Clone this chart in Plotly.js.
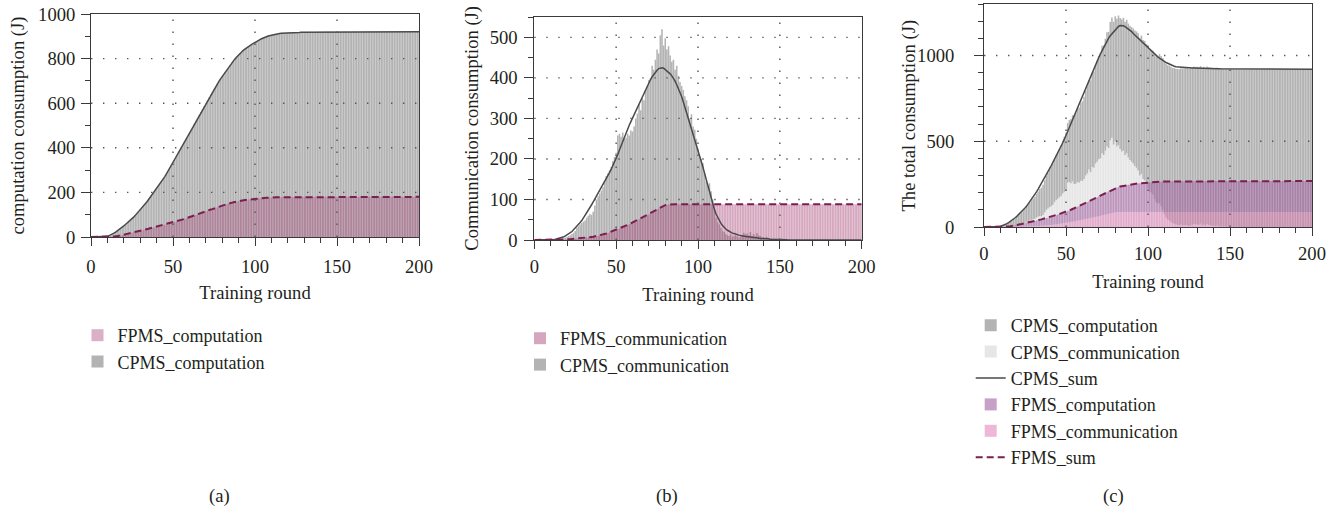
<!DOCTYPE html>
<html><head><meta charset="utf-8">
<script src="https://cdn.plot.ly/plotly-3.0.1.min.js"></script>
<style>html,body{margin:0;padding:0;background:#fff;}#chart{width:1343px;height:513px;}</style>
</head><body><div id="chart"></div>
<script>
// ---- data (values per training round 1..200) ----
const rounds = Array.from({length: 200}, (_, i) => i + 1);

// panel (a): CPMS computation
const cpmsComp = [
 0,0,0,0,0,0,0,0,1,3,
 6,9,13,17,22,27,32,38,44,50,
 56,62,68,75,82,89,97,105,113,121,
 129,138,147,157,167,177,187,197,207,217,
 227,238,249,260,271,283,295,308,321,335,
 348,361,374,387,400,413,426,439,452,465,
 479,493,507,521,535,548,561,574,587,600,
 613,626,639,652,665,676,687,698,709,720,
 730,741,751,762,772,782,791,800,809,818,
 825,831,838,844,850,855,859,864,868,873,
 877,881,885,889,893,896,898,901,903,906,
 907,909,910,912,913,914,914,915,915,916,
 916,916,917,917,917,917,917,918,918,918,
 918,918,918,919,919,919,919,919,920,920,
 920,920,920,920,920,920,920,920,920,920,
 920,920,920,920,920,920,920,920,920,920,
 920,920,920,920,920,920,920,920,920,920,
 920,920,920,920,920,920,920,920,920,920,
 920,920,920,920,920,920,920,920,920,920,
 920,920,920,920,920,920,920,920,920,920
];

// panel (c): CPMS computation as it appears in the total chart
const cpmsCompC = [
 0,0,0,0,0,0,0,0,1,3,
 6,9,13,17,22,27,32,38,44,50,
 56,62,68,75,82,89,97,105,113,121,
 129,138,147,157,167,177,187,197,207,217,
 227,238,249,260,271,283,295,308,321,335,
 348,361,374,387,400,413,426,439,452,465,
 479,493,507,521,535,548,561,574,587,600,
 613,626,639,652,665,678,690,702,716,730,
 744,755,764,770,774,776,778,781,783,785,
 787,791,795,799,803,806,810,813,817,820,
 826,832,838,844,850,859,868,877,885,890,
 895,899,903,904,905,906,907,909,910,912,
 916,916,917,917,917,917,917,918,918,918,
 918,918,918,919,919,919,919,919,920,920,
 920,920,920,920,920,920,920,920,920,920,
 920,920,920,920,920,920,920,920,920,920,
 920,920,920,920,920,920,920,920,920,920,
 920,920,920,920,920,920,920,920,920,920,
 920,920,920,920,920,920,920,920,920,920,
 920,920,920,920,920,920,920,920,920,920
];

const fpmsComp = [
 0,0,0,0,0,0,0,0,0,0,
 0.5,1,1.5,2,3,4,5,7,8.5,10,
 12,14,15.5,17,19,21,23,24.5,26,28,
 30,32,33.5,35,37,39,41,42.5,44,46,
 48,50,51.5,53,55,57,59,60.5,62,64,
 66,69,71,74,76,79,81,84,86,89,
 92,94,97,99,102,105,107,110,112,115,
 118,120,123,125,128,131,133,136,138,141,
 143,145,148,150,152,154,156,158,159,161,
 162,163,165,166,167,168,169,170,170,171,
 172,173,174,174,175,175,176,176,177,177,
 177,178,178,178,178,179,179,179,179,179,
 179,179,179,180,180,180,180,180,180,180,
 180,180,180,180,180,180,180,180,180,180,
 180,180,180,180,180,180,180,180,180,180,
 180,180,180,180,180,180,180,180,180,180,
 180,180,180,180,180,180,180,180,180,180,
 180,180,180,180,180,180,180,180,180,180,
 180,180,180,180,180,180,180,180,180,180,
 180,180,180,180,180,180,180,180,180,180
];

const cpmsComm = [
 0,0,0,0,0,0,0,0,0,0,
 0,1,1,2,2,3,4,5,6,8,
 10,12,15,18,22,30,34,38,42,45,
 48,55,60,64,62,70,85,100,108,115,
 122,130,145,158,165,172,180,195,205,215,
 258,262,255,265,250,252,262,258,270,268,
 280,300,312,335,320,350,345,370,380,395,
 400,430,420,445,470,460,505,520,480,498,
 470,478,455,440,445,420,430,405,390,380,
 370,355,345,330,300,310,280,272,250,225,
 205,200,190,165,145,135,140,120,100,75,
 55,44,38,30,22,20,15,12,10,14,
 8,10,12,9,6,8,12,18,14,16,
 12,20,10,15,8,17,12,10,6,7,
 5,8,4,3,4,2,3,1,2,1,
 1,1,0,1,0,0,0,0,0,0,
 0,0,0,0,0,0,0,0,0,0,
 0,0,0,0,0,0,0,0,0,0,
 0,0,0,0,0,0,0,0,0,0,
 0,0,0,0,0,0,0,0,0,0
];

const cpmsCommFit = [
 0,0,0,0,0,0,0,0,0.3,0.6,
 1,1.5,2,3,4,5,7,8,10,12,
 15,18,21,25,29,33,38,43,48,54,
 61,67,74,80,87,94,101,108,116,124,
 131,138,145,152,160,167,175,183,191,200,
 211,222,233,244,255,265,274,283,292,301,
 310,319,328,336,344,353,362,371,380,389,
 396,403,409,414,419,423,425,425,424,421,
 418,414,410,405,399,392,383,374,364,354,
 341,328,314,300,287,274,261,248,235,221,
 208,195,180,165,150,133,117,100,88,76,
 64,55,47,41,36,31,27,24,21,19,
 17,16,14,13,12,11,10,9,9,8,
 8,7,7,6,6,5,5,4,4,4,
 3,3,3,2,2,2,2,1,1,1,
 1,0.5,0.5,0.5,0,0,0,0,0,0,
 0,0,0,0,0,0,0,0,0,0,
 0,0,0,0,0,0,0,0,0,0,
 0,0,0,0,0,0,0,0,0,0,
 0,0,0,0,0,0,0,0,0,0
];

const fpmsComm = [
 0,0,0,0,0,0,0,0,0,0,
 0,0,0,0.2,0.4,0.6,0.8,1,1.2,1.5,
 1.8,2,2.3,2.6,3,3.3,3.6,4,4.5,5,
 5.5,6,6.5,7,7.5,8,8.8,9.6,10.5,11.5,
 12.5,13.5,14.5,16,17.5,19,20.5,22,23.5,25,
 26.5,28,29.5,31,33,35,37,39,41,43,
 45,47,49,51,53,55,57,59,61,63,
 65.5,68,70,72.5,75,77.5,80,82,84,86,
 87,87.5,88,88,88,88,88,88,88,88,
 88,88,88,88,88,88,88,88,88,88,
 88,88,88,88,88,88,88,88,88,88,
 88,88,88,88,88,88,88,88,88,88,
 88,88,88,88,88,88,88,88,88,88,
 88,88,88,88,88,88,88,88,88,88,
 88,88,88,88,88,88,88,88,88,88,
 88,88,88,88,88,88,88,88,88,88,
 88,88,88,88,88,88,88,88,88,88,
 88,88,88,88,88,88,88,88,88,88,
 88,88,88,88,88,88,88,88,88,88,
 88,88,88,88,88,88,88,88,88,88
];

// tick / grid values
const xGrid = [50, 100, 150];
const yGridA = [200, 400, 600, 800];
const yGridB = [100, 200, 300, 400, 500];
const yGridC = [500, 1000];
const captions = ['(a)', '(b)', '(c)'];

// derived series for panel (c)
const cpmsSum = cpmsCompC.map((v, i) => v + cpmsCommFit[i]);
const fpmsSum = fpmsComp.map((v, i) => v + fpmsComm[i]);

// ---- styling ----
const FONT = 'Liberation Serif, Times New Roman, serif';
const FS = 18.6;
const TXT = '#231f20';
const AX = '#3a3a3a';
const GRAY = '#b3b3b3';
const LGRAY = '#e6e6e6';
const PINK_AB = 'rgb(168,70,120)';
const PURPLE_C = 'rgb(163,97,163)';
const PINK_C = 'rgb(225,113,177)';
const LINE_DARK = '#4a4a4a';
const LINE_DASH = '#7a1f4f';

function xAxis(domain, anchor, tls, standoff) {
  return {
    domain, anchor, range: [0, 200], tick0: 0, dtick: 50,
    ticks: 'outside', ticklen: 8, tickwidth: 1, tickcolor: AX,
    showline: true, linecolor: AX, linewidth: 1, mirror: true,
    showgrid: false, zeroline: false, ticklabelstandoff: tls,
    minor: {tick0: 0, dtick: 10, ticks: 'outside', ticklen: 5, tickwidth: 1, tickcolor: AX, showgrid: false},
    tickfont: {family: FONT, size: FS, color: TXT},
    title: {text: 'Training round', font: {family: FONT, size: FS, color: TXT}, standoff},
    fixedrange: true
  };
}
function yAxis(domain, anchor, range, dtick, minor, title, standoff, tls) {
  return {
    domain, anchor, range, tick0: 0, dtick,
    ticks: 'outside', ticklen: 9, tickwidth: 1, tickcolor: AX,
    showline: true, linecolor: AX, linewidth: 1, mirror: true,
    showgrid: false, zeroline: false, ticklabelstandoff: tls,
    minor: {tick0: 0, dtick: minor, ticks: 'outside', ticklen: 5, tickwidth: 1, tickcolor: AX, showgrid: false},
    tickfont: {family: FONT, size: FS, color: TXT},
    title: {text: title, font: {family: FONT, size: FS, color: TXT}, standoff},
    fixedrange: true
  };
}

const traces = [];
// panel (a)
traces.push({type: 'bar', x: rounds, y: cpmsComp, xaxis: 'x', yaxis: 'y', name: 'CPMS_computation',
  marker: {color: GRAY, line: {width: 0}}, legend: 'legend', legendrank: 2});
traces.push({type: 'bar', x: rounds, y: fpmsComp, xaxis: 'x', yaxis: 'y', name: 'FPMS_computation',
  marker: {color: PINK_AB, line: {width: 0}}, opacity: 0.42, legend: 'legend', legendrank: 1});
traces.push({type: 'scatter', mode: 'lines', x: [0].concat(rounds), y: [0].concat(cpmsComp), xaxis: 'x', yaxis: 'y',
  line: {color: LINE_DARK, width: 1.5}, showlegend: false});
traces.push({type: 'scatter', mode: 'lines', x: [0].concat(rounds), y: [0].concat(fpmsComp), xaxis: 'x', yaxis: 'y',
  line: {color: LINE_DASH, width: 2, dash: '7px,4px'}, showlegend: false});
// panel (b)
traces.push({type: 'bar', x: rounds, y: cpmsComm, xaxis: 'x2', yaxis: 'y2', name: 'CPMS_communication',
  marker: {color: GRAY, line: {width: 0}}, legend: 'legend2', legendrank: 2});
traces.push({type: 'bar', x: rounds, y: fpmsComm, xaxis: 'x2', yaxis: 'y2', name: 'FPMS_communication',
  marker: {color: PINK_AB, line: {width: 0}}, opacity: 0.47, legend: 'legend2', legendrank: 1});
traces.push({type: 'scatter', mode: 'lines', x: [0].concat(rounds), y: [0].concat(cpmsCommFit), xaxis: 'x2', yaxis: 'y2',
  line: {color: LINE_DARK, width: 1.5}, showlegend: false});
traces.push({type: 'scatter', mode: 'lines', x: [0].concat(rounds), y: [0].concat(fpmsComm), xaxis: 'x2', yaxis: 'y2',
  line: {color: LINE_DASH, width: 2, dash: '7px,4px'}, showlegend: false});
// panel (c)
traces.push({type: 'bar', x: rounds, y: cpmsComm, xaxis: 'x3', yaxis: 'y3', name: 'CPMS_communication',
  marker: {color: LGRAY, line: {width: 0}}, legend: 'legend3', legendrank: 2});
traces.push({type: 'bar', x: rounds, y: cpmsCompC, base: cpmsComm, xaxis: 'x3', yaxis: 'y3', name: 'CPMS_computation',
  marker: {color: GRAY, line: {width: 0}}, legend: 'legend3', legendrank: 1});
traces.push({type: 'bar', x: rounds, y: fpmsComm, xaxis: 'x3', yaxis: 'y3', name: 'FPMS_communication',
  marker: {color: PINK_C, line: {width: 0}}, opacity: 0.5, legend: 'legend3', legendrank: 5});
traces.push({type: 'bar', x: rounds, y: fpmsComp, base: fpmsComm, xaxis: 'x3', yaxis: 'y3', name: 'FPMS_computation',
  marker: {color: PURPLE_C, line: {width: 0}}, opacity: 0.6, legend: 'legend3', legendrank: 4});
traces.push({type: 'scatter', mode: 'lines', x: [0].concat(rounds), y: [0].concat(cpmsSum), xaxis: 'x3', yaxis: 'y3',
  name: 'CPMS_sum', line: {color: LINE_DARK, width: 1.5}, legend: 'legend3', legendrank: 3});
traces.push({type: 'scatter', mode: 'lines', x: [0].concat(rounds), y: [0].concat(fpmsSum), xaxis: 'x3', yaxis: 'y3',
  name: 'FPMS_sum', line: {color: LINE_DASH, width: 2, dash: '7px,4px'}, legend: 'legend3', legendrank: 6});

// dotted grid drawn above the bars
const shapes = [];
const GRID = {color: '#555555', width: 1.4, dash: '1.4px,10.6px'};
[['x', 'y', yGridA], ['x2', 'y2', yGridB], ['x3', 'y3', yGridC]].forEach(([xa, ya, yg]) => {
  xGrid.forEach(v => shapes.push({type: 'line', layer: 'above', xref: xa, yref: ya + ' domain', x0: v, x1: v, y0: 0, y1: 1, line: GRID}));
  yg.forEach(v => shapes.push({type: 'line', layer: 'above', xref: xa + ' domain', yref: ya, x0: 0, x1: 1, y0: v, y1: v, line: GRID}));
});

const legendBase = {xanchor: 'left', yanchor: 'top', bgcolor: 'rgba(0,0,0,0)', borderwidth: 0,
  traceorder: 'normal', font: {family: FONT, size: 18, color: TXT}};

const W = 1343, H = 513;
const annotations = captions.map((t, i) => ({
  text: t, xref: 'paper', yref: 'paper', x: [219, 666.5, 1113][i] / W, y: 1 - 496 / H,
  xanchor: 'center', yanchor: 'middle', showarrow: false, font: {family: FONT, size: FS, color: TXT}
}));
// y-axis title of panel (c), placed as in the reference
annotations.push({text: 'The total consumption (J)', xref: 'paper', yref: 'paper', x: 909 / W, y: 1 - 115.5 / H,
  xanchor: 'center', yanchor: 'middle', textangle: -90, showarrow: false, font: {family: FONT, size: FS, color: TXT}});

const layout = {
  width: W, height: H, autosize: false,
  margin: {l: 0, r: 0, t: 0, b: 0},
  paper_bgcolor: '#fff', plot_bgcolor: '#fff',
  barmode: 'overlay', bargap: 0.06,
  showlegend: true, hovermode: false,
  xaxis: xAxis([91 / W, 419 / W], 'y', 5, 9),
  yaxis: yAxis([1 - 237 / H, 1 - 14 / H], 'x', [0, 1000], 200, 100, 'computation consumption (J)', 8, 2),
  xaxis2: xAxis([534.3 / W, 861.7 / W], 'y2', 2, 11),
  yaxis2: yAxis([1 - 240 / H, 1 - 16.7 / H], 'x2', [0, 551], 100, 50, 'Communication consumption (J)', 6, 3),
  xaxis3: xAxis([984 / W, 1312 / W], 'y3', 2, 11),
  yaxis3: yAxis([1 - 227 / H, 1 - 4 / H], 'x3', [0, 1300], 500, 100, '', 0, 16),
  legend: Object.assign({x: 77.5 / W, y: 1 - 317 / H}, legendBase),
  legend2: Object.assign({x: 520 / W, y: 1 - 320 / H}, legendBase),
  legend3: Object.assign({x: 970.7 / W, y: 1 - 307 / H}, legendBase),
  shapes,
  annotations
};

Plotly.newPlot('chart', traces, layout, {staticPlot: true, displayModeBar: false});
</script>
</body></html>
